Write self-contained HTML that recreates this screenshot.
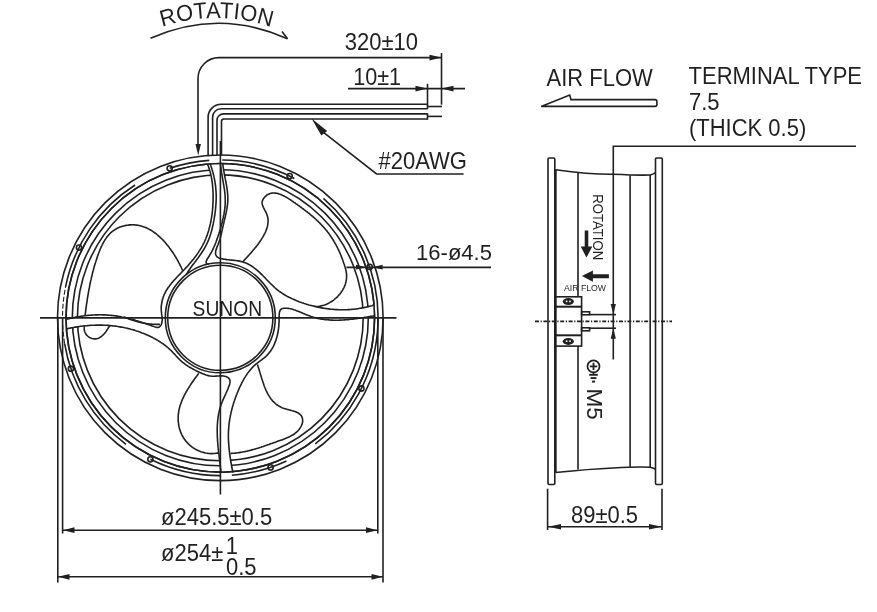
<!DOCTYPE html>
<html><head><meta charset="utf-8">
<style>
html,body{margin:0;padding:0;background:#fff;width:877px;height:612px;overflow:hidden}
svg{display:block;filter:grayscale(1)}
text{font-family:"Liberation Sans",sans-serif;fill:#231f20}
</style></head><body>
<svg width="877" height="612" viewBox="0 0 877 612">
<g fill="none" stroke="#231f20" stroke-width="1.6">
<circle cx="220.3" cy="317.8" r="162.8"/>
<circle cx="220.3" cy="317.8" r="154.3"/>
<circle cx="220.3" cy="317.8" r="148.0"/>
<circle cx="220.3" cy="317.8" r="142.9"/>
<path d="M222.23 160.01 A157.80 157.80 0 0 1 294.38 178.47"/>
<path d="M323.41 198.35 A157.80 157.80 0 0 1 315.27 443.82"/>
<path d="M286.49 461.05 A157.80 157.80 0 0 1 231.86 475.18"/>
<path d="M220.30 475.60 A157.80 157.80 0 0 1 150.38 459.27"/>
<path d="M125.99 444.32 A157.80 157.80 0 0 1 64.62 343.57"/>
<path d="M65.56 286.88 A157.80 157.80 0 0 1 135.05 185.01"/>
<path d="M169.71 168.33 A157.80 157.80 0 0 1 209.29 160.38"/>
<path d="M64.62 343.57 A157.80 157.80 0 0 1 65.56 286.88" stroke-dasharray="5 2" stroke-width="1.1"/>
<path d="M242.4 262.2 L243.2 261.4 L244.0 260.5 L244.8 259.6 L245.6 258.7 L246.4 257.9 L247.2 257.0 L248.0 256.1 L248.8 255.2 L249.6 254.3 L250.5 253.4 L251.3 252.5 L252.1 251.5 L252.9 250.6 L253.6 249.7 L254.4 248.8 L255.2 247.8 L256.0 246.9 L256.7 245.9 L257.5 244.9 L258.2 244.0 L258.9 243.0 L259.6 242.0 L260.3 241.0 L261.0 240.0 L261.7 238.9 L262.3 237.9 L262.9 236.9 L263.5 235.8 L264.1 234.7 L264.7 233.6 L265.2 232.6 L265.7 231.5 L266.1 230.3 L266.6 229.2 L266.9 228.1 L267.3 227.0 L267.5 225.8 L267.8 224.7 L267.9 223.5 L268.0 222.4 L268.1 221.2 L268.1 220.0 L268.0 218.9 L267.8 217.7 L267.5 216.5 L267.2 215.4 L266.8 214.2 L266.3 213.1 L265.7 211.9 L265.1 210.7 L264.5 209.6 L263.9 208.4 L263.3 207.3 L262.9 206.1 L262.5 205.0 L262.2 203.9 L262.1 202.8 L262.2 201.7 L262.5 200.6 L263.0 199.5 L263.6 198.4 L264.3 197.5 L265.2 196.6 L266.1 195.8 L267.0 195.0 L268.0 194.4 L269.0 194.0 L270.0 193.6 L271.0 193.3 L272.0 193.1 L273.1 193.0 L274.1 193.0 L275.2 193.1 L276.3 193.2 L277.3 193.4 L278.4 193.7 L279.5 194.1 L280.7 194.5 L281.8 194.9 L282.9 195.5 L284.0 196.0 L285.1 196.6 L286.2 197.2 L287.4 197.9 L288.5 198.6 L289.6 199.3 L290.7 200.0 L291.8 200.8 L292.9 201.5 L294.0 202.3 L295.1 203.0 L296.1 203.8 L297.2 204.5 L298.2 205.3 L299.3 206.0 L300.3 206.8 L301.3 207.5 L302.3 208.3 L303.3 209.0 L304.3 209.8 L305.3 210.5 L306.3 211.3 L307.3 212.0 L308.2 212.8 L309.2 213.5 L310.1 214.3 L311.0 215.1 L311.9 215.8 L312.8 216.6 L313.7 217.4 L314.6 218.2 L315.5 219.0 L316.4 219.8 L317.2 220.6 L318.1 221.4 L318.9 222.2 L319.7 223.0 L320.5 223.9 L321.4 224.7 L322.1 225.6 L322.9 226.4 L323.7 227.3 L324.5 228.2 L325.2 229.0 L326.0 229.9 L326.7 230.8 L327.4 231.8 L328.2 232.7 L328.9 233.6 L329.6 234.6 L330.2 235.5 L330.9 236.5 L331.6 237.5 L332.2 238.5 L332.9 239.5 L333.5 240.5 L334.1 241.6 L334.7 242.6 L335.3 243.7 L335.9 244.7 L336.5 245.8 L337.1 246.9 L337.6 248.0 L338.1 249.1 L338.7 250.2 L339.2 251.4 L339.7 252.5 L340.2 253.6 L340.7 254.8 L341.2 255.9 L341.6 257.1 L342.1 258.2 L342.5 259.4 L342.9 260.6 L343.3 261.7 L343.7 262.9 L344.1 264.1 L344.5 265.2 L344.9 266.4 L345.2 267.6 L345.5 268.8 L345.8 269.9 L346.1 271.1 L346.3 272.3 L346.4 273.5 L346.6 274.7 L346.6 275.8 L346.6 277.0 L346.5 278.2 L346.4 279.3 L346.2 280.5 L346.0 281.7 L345.7 282.8 L345.4 283.9 L345.0 285.1 L344.5 286.2 L344.1 287.3 L343.5 288.3 L343.0 289.4 L342.4 290.4 L341.7 291.5 L341.0 292.5 L340.3 293.4 L339.5 294.4 L338.7 295.3 L337.9 296.2 L337.1 297.1 L336.2 297.9 L335.2 298.7 L334.3 299.5 L333.3 300.3 L332.3 301.0 L331.3 301.7 L330.2 302.3 L329.2 302.9 L328.1 303.5 L327.0 304.0 L325.8 304.5 L324.7 304.9 L323.5 305.3 L322.4 305.6 L321.2 305.9 L320.0 306.2 L318.8 306.4 L317.6 306.5 L316.4 306.6 L315.2 306.6 L314.0 306.6"/>
<path d="M85.0 316.5 L85.1 315.3 L85.3 314.1 L85.4 312.9 L85.6 311.7 L85.7 310.5 L85.9 309.3 L86.0 308.1 L86.2 306.9 L86.4 305.7 L86.5 304.5 L86.7 303.3 L86.9 302.1 L87.1 300.9 L87.2 299.8 L87.4 298.6 L87.6 297.4 L87.8 296.2 L88.0 295.0 L88.2 293.9 L88.4 292.7 L88.6 291.5 L88.8 290.3 L89.0 289.1 L89.3 288.0 L89.5 286.8 L89.7 285.6 L89.9 284.4 L90.2 283.3 L90.4 282.1 L90.7 280.9 L91.0 279.7 L91.2 278.6 L91.5 277.4 L91.8 276.2 L92.1 275.0 L92.3 273.9 L92.6 272.7 L92.9 271.5 L93.3 270.3 L93.6 269.1 L93.9 268.0 L94.2 266.8 L94.6 265.6 L94.9 264.4 L95.3 263.2 L95.7 262.0 L96.0 260.9 L96.4 259.7 L96.8 258.5 L97.2 257.3 L97.6 256.1 L98.0 254.9 L98.5 253.7 L98.9 252.5 L99.4 251.3 L99.8 250.2 L100.3 249.0 L100.8 247.8 L101.3 246.7 L101.9 245.5 L102.4 244.4 L103.0 243.3 L103.6 242.2 L104.2 241.2 L104.8 240.1 L105.5 239.1 L106.2 238.1 L106.9 237.1 L107.6 236.2 L108.4 235.2 L109.2 234.4 L110.0 233.5 L110.9 232.7 L111.8 231.9 L112.7 231.2 L113.7 230.5 L114.7 229.8 L115.7 229.2 L116.7 228.6 L117.8 228.0 L118.9 227.5 L120.0 227.1 L121.2 226.7 L122.4 226.3 L123.5 226.0 L124.7 225.7 L125.9 225.4 L127.1 225.2 L128.3 225.1 L129.6 224.9 L130.8 224.9 L132.0 224.8 L133.2 224.8 L134.4 224.9 L135.6 225.0 L136.7 225.1 L137.9 225.3 L139.0 225.5 L140.2 225.8 L141.3 226.1 L142.4 226.4 L143.6 226.8 L144.7 227.2 L145.7 227.6 L146.8 228.1 L147.9 228.6 L148.9 229.1 L150.0 229.7 L151.0 230.3 L152.0 230.9 L153.0 231.6 L154.0 232.3 L155.0 233.0 L156.0 233.7 L156.9 234.5 L157.9 235.3 L158.8 236.1 L159.7 236.9 L160.6 237.8 L161.5 238.6 L162.4 239.5 L163.3 240.4 L164.1 241.3 L165.0 242.3 L165.8 243.2 L166.6 244.2 L167.4 245.2 L168.2 246.1 L169.0 247.1 L169.7 248.2 L170.5 249.2 L171.2 250.2 L171.9 251.2 L172.7 252.3 L173.3 253.3 L174.0 254.4 L174.7 255.4 L175.3 256.5 L176.0 257.5 L176.6 258.6 L177.2 259.6 L177.8 260.7 L178.4 261.8 L178.9 262.8 L179.5 263.8 L180.0 264.9 L180.5 265.9 L181.0 266.9 L181.5 268.0 L182.0 269.0 L182.4 270.0 L182.9 271.0"/>
<path d="M84.5 326.4 L84.2 327.8 L84.2 329.2 L84.4 330.5 L84.7 331.8 L85.3 333.0 L85.9 334.1 L86.7 335.1 L87.6 336.0 L88.6 336.8 L89.7 337.5 L90.8 338.1 L92.0 338.5 L93.2 338.8 L94.4 338.9 L95.6 338.9 L96.7 338.8 L97.8 338.5 L98.9 338.0 L99.9 337.4 L101.0 336.8 L101.9 336.0 L102.9 335.1 L103.8 334.2 L104.6 333.2 L105.5 332.2 L106.3 331.1 L107.0 330.0 L107.7 328.9 L108.4 327.8 L109.1 326.8 L109.7 325.7"/>
<path d="M198.8 373.2 L198.1 374.1 L197.5 375.0 L196.8 376.0 L196.1 376.9 L195.4 377.8 L194.7 378.8 L194.0 379.8 L193.3 380.8 L192.6 381.8 L191.9 382.8 L191.2 383.8 L190.5 384.9 L189.9 385.9 L189.2 387.0 L188.5 388.1 L187.8 389.1 L187.2 390.2 L186.6 391.3 L185.9 392.4 L185.3 393.5 L184.7 394.7 L184.1 395.8 L183.6 396.9 L183.0 398.1 L182.5 399.2 L182.0 400.4 L181.6 401.6 L181.1 402.8 L180.7 403.9 L180.3 405.1 L179.9 406.3 L179.6 407.5 L179.3 408.7 L179.0 409.9 L178.8 411.1 L178.6 412.3 L178.5 413.5 L178.3 414.7 L178.2 415.9 L178.2 417.2 L178.2 418.4 L178.2 419.6 L178.2 420.8 L178.3 422.0 L178.5 423.1 L178.6 424.3 L178.8 425.5 L179.0 426.7 L179.3 427.8 L179.6 429.0 L180.0 430.1 L180.3 431.2 L180.8 432.3 L181.2 433.4 L181.7 434.5 L182.2 435.5 L182.8 436.5 L183.4 437.6 L184.0 438.6 L184.7 439.5 L185.4 440.5 L186.1 441.4 L186.9 442.3 L187.7 443.2 L188.6 444.0 L189.4 444.8 L190.3 445.6 L191.3 446.4 L192.2 447.1 L193.2 447.8 L194.3 448.5 L195.3 449.1 L196.4 449.7 L197.5 450.3 L198.6 450.8 L199.7 451.2 L200.9 451.7 L202.1 452.1 L203.3 452.4 L204.5 452.7 L205.7 453.0 L207.0 453.2 L208.2 453.4 L209.5 453.5 L210.8 453.6 L212.1 453.6 L213.4 453.5 L214.7 453.5 L216.1 453.3 L217.4 453.1 L218.7 452.9"/>
<path d="M257.4 364.5 L257.8 365.6 L258.1 366.7 L258.5 367.8 L258.9 368.9 L259.2 370.1 L259.6 371.3 L259.9 372.4 L260.3 373.6 L260.6 374.8 L261.0 376.0 L261.4 377.2 L261.7 378.4 L262.1 379.5 L262.5 380.7 L262.9 381.9 L263.3 383.1 L263.7 384.3 L264.1 385.5 L264.5 386.6 L265.0 387.8 L265.5 388.9 L265.9 390.0 L266.4 391.1 L267.0 392.2 L267.5 393.3 L268.1 394.4 L268.7 395.4 L269.3 396.4 L270.0 397.4 L270.6 398.4 L271.3 399.3 L272.1 400.2 L272.8 401.1 L273.6 401.9 L274.5 402.7 L275.3 403.5 L276.2 404.3 L277.2 405.0 L278.2 405.6 L279.2 406.2 L280.3 406.8 L281.4 407.4 L282.5 407.9 L283.7 408.3 L285.0 408.7 L286.2 409.1 L287.5 409.4 L288.8 409.8 L290.1 410.1 L291.3 410.5 L292.6 410.8 L293.8 411.2 L295.0 411.6 L296.1 412.0 L297.2 412.5 L298.2 413.0 L299.1 413.6 L299.9 414.3 L300.7 415.0 L301.3 415.8 L301.8 416.7 L302.2 417.7 L302.5 418.7 L302.6 419.8 L302.7 421.0 L302.6 422.1 L302.3 423.3 L302.0 424.4 L301.5 425.5 L300.9 426.7 L300.3 427.7 L299.6 428.8 L298.8 429.8 L298.0 430.7 L297.1 431.6 L296.2 432.5 L295.2 433.2 L294.2 434.0 L293.2 434.7 L292.1 435.3 L291.0 435.9 L289.9 436.5 L288.8 437.1 L287.7 437.6 L286.5 438.1 L285.3 438.6 L284.2 439.0 L283.0 439.5 L281.8 439.9 L280.6 440.3 L279.4 440.7 L278.2 441.1 L277.0 441.6 L275.9 442.0 L274.7 442.4 L273.5 442.8 L272.4 443.2 L271.2 443.6 L270.1 444.0 L269.0 444.4 L267.8 444.8 L266.7 445.2 L265.5 445.6 L264.4 446.0 L263.3 446.4 L262.1 446.8 L261.0 447.2 L259.9 447.5 L258.7 447.9 L257.6 448.3 L256.5 448.6 L255.3 448.9 L254.2 449.3 L253.1 449.6 L251.9 449.9 L250.8 450.2 L249.6 450.5 L248.5 450.8 L247.3 451.1 L246.2 451.3 L245.0 451.6 L243.8 451.8 L242.6 452.0 L241.5 452.2 L240.3 452.4 L239.1 452.6 L237.8 452.8 L236.6 453.0 L235.4 453.1 L234.2 453.2 L232.9 453.3 L231.7 453.4 L230.4 453.5"/>
</g>
<path d="M222.8 163.9 L222.9 165.1 L223.1 166.3 L223.2 167.5 L223.4 168.7 L223.6 169.9 L223.8 171.0 L224.0 172.2 L224.2 173.4 L224.4 174.6 L224.7 175.8 L224.9 177.0 L225.1 178.2 L225.4 179.4 L225.6 180.6 L225.8 181.8 L226.1 183.0 L226.3 184.2 L226.5 185.4 L226.7 186.6 L226.9 187.8 L227.1 189.0 L227.2 190.2 L227.4 191.4 L227.5 192.6 L227.6 193.8 L227.7 195.0 L227.8 196.2 L227.8 197.4 L227.8 198.6 L227.8 199.8 L227.8 201.0 L227.7 202.2 L227.6 203.4 L227.5 204.6 L227.3 205.8 L227.2 207.0 L227.0 208.2 L226.8 209.4 L226.5 210.6 L226.3 211.8 L226.1 213.0 L225.8 214.2 L225.5 215.4 L225.3 216.6 L225.0 217.8 L224.7 219.0 L224.4 220.1 L224.1 221.3 L223.9 222.5 L223.6 223.7 L223.3 224.8 L223.1 226.0 L222.8 227.1 L222.6 228.3 L222.3 229.4 L222.1 230.6 L221.8 231.7 L221.5 232.9 L221.3 234.0 L221.0 235.2 L220.7 236.3 L220.4 237.5 L220.1 238.7 L219.7 239.9 L219.3 241.0 L218.9 242.2 L218.5 243.4 L218.0 244.7 L217.5 245.9 L217.0 247.1 L216.6 248.4 L216.1 249.6 L215.8 250.8 L215.6 251.9 L215.5 253.1 L215.6 254.1 L215.9 255.1 L216.4 256.0 L217.1 256.8 L217.9 257.4 L218.8 257.9 L219.9 258.3 L221.0 258.6 L222.2 258.8 L223.4 259.1 L224.6 259.3 L225.8 259.4 L227.0 259.6 L228.3 259.7 L229.5 259.9 L230.8 260.0 L232.0 260.1 L233.3 260.2 L234.6 260.4 L235.8 260.5 L237.1 260.7 L238.3 260.9 L239.5 261.1 L240.7 261.4 L241.9 261.7 L243.1 262.0 L244.2 262.4 L245.3 262.8 L246.4 263.2 L247.5 263.7 L248.5 264.3 L249.5 264.8 L250.6 265.4 L251.5 266.0 L252.5 266.7 L253.5 267.4 L254.4 268.1 L255.4 268.8 L256.3 269.5 L257.2 270.3 L258.1 271.1 L259.0 271.9 L259.9 272.7 L260.8 273.6 L261.6 274.4 L262.5 275.3 L263.4 276.2 L264.2 277.0 L265.1 277.9 L265.9 278.8 L266.8 279.7 L267.6 280.6 L268.5 281.5 L269.4 282.3 L270.2 283.2 L271.1 284.1 L272.0 284.9 L272.9 285.8 L273.7 286.6 L274.6 287.5 L275.6 288.3 L276.5 289.1 L277.4 289.8 L278.4 290.6 L279.3 291.3 L280.3 292.0 L281.3 292.7 L282.3 293.4 L283.3 294.0 L284.3 294.7 L285.4 295.3 L286.4 295.9 L287.4 296.5 L288.5 297.0 L289.6 297.6 L290.7 298.1 L291.8 298.6 L292.8 299.1 L294.0 299.6 L295.1 300.1 L296.2 300.6 L297.3 301.0 L298.4 301.4 L299.6 301.9 L300.7 302.3 L301.8 302.7 L303.0 303.1 L304.1 303.5 L305.3 303.8 L306.4 304.2 L307.6 304.5 L308.8 304.9 L309.9 305.2 L311.1 305.5 L312.3 305.8 L313.4 306.1 L314.6 306.4 L315.8 306.7 L317.0 307.0 L318.1 307.2 L319.3 307.4 L320.5 307.7 L321.7 307.9 L322.9 308.1 L324.1 308.3 L325.3 308.5 L326.5 308.6 L327.7 308.8 L328.8 308.9 L330.0 309.1 L331.2 309.2 L332.4 309.3 L333.6 309.4 L334.8 309.5 L336.0 309.6 L337.3 309.6 L338.5 309.7 L339.7 309.7 L340.9 309.7 L342.1 309.8 L343.3 309.8 L344.5 309.7 L345.7 309.7 L346.9 309.7 L348.1 309.6 L349.3 309.6 L350.5 309.5 L351.7 309.4 L352.9 309.3 L354.1 309.2 L355.3 309.0 L356.5 308.9 L357.7 308.7 L358.9 308.5 L360.1 308.3 L361.3 308.1 L362.5 307.9 L363.7 307.7 L364.9 307.4 L366.0 307.2 L367.2 306.9 L368.4 306.6 L369.6 306.3 L370.8 306.0 L372.0 305.7 L373.1 305.3 L374.3 305.0 A154.3 154.3 0 0 1 374.6 315.7 L374.3 315.8 L373.1 316.0 L371.9 316.2 L370.8 316.4 L369.6 316.6 L368.4 316.8 L367.2 317.0 L366.0 317.2 L364.8 317.4 L363.6 317.6 L362.5 317.7 L361.3 317.9 L360.1 318.1 L358.9 318.3 L357.7 318.4 L356.5 318.6 L355.3 318.8 L354.1 318.9 L352.9 319.1 L351.7 319.2 L350.5 319.3 L349.3 319.5 L348.1 319.6 L346.9 319.7 L345.7 319.8 L344.5 319.9 L343.3 320.0 L342.1 320.0 L340.9 320.1 L339.7 320.1 L338.5 320.2 L337.2 320.2 L336.0 320.2 L334.8 320.2 L333.6 320.2 L332.4 320.1 L331.2 320.1 L330.0 320.0 L328.9 319.9 L327.7 319.8 L326.5 319.7 L325.3 319.6 L324.1 319.4 L322.9 319.3 L321.7 319.1 L320.5 318.9 L319.3 318.6 L318.1 318.4 L316.9 318.1 L315.8 317.8 L314.6 317.5 L313.4 317.2 L312.2 316.8 L311.1 316.5 L309.9 316.1 L308.7 315.6 L307.6 315.2 L306.4 314.7 L305.2 314.3 L304.1 313.8 L302.9 313.3 L301.8 312.8 L300.6 312.3 L299.5 311.8 L298.3 311.3 L297.2 310.9 L296.0 310.4 L294.9 310.0 L293.8 309.7 L292.7 309.3 L291.5 309.0 L290.4 308.7 L289.3 308.5 L288.2 308.4 L287.1 308.3 L285.9 308.2 L284.8 308.2 L283.7 308.3 L282.7 308.5 L281.7 308.8 L280.9 309.4 L280.3 310.1 L279.8 311.1 L279.5 312.2 L279.3 313.5 L279.2 314.8 L279.2 316.2 L279.2 317.6 L279.1 319.0 L279.1 320.3 L279.1 321.6 L279.0 322.8 L278.9 324.1 L278.9 325.3 L278.8 326.5 L278.6 327.6 L278.5 328.8 L278.3 330.0 L278.2 331.1 L278.0 332.3 L277.7 333.4 L277.5 334.6 L277.2 335.8 L276.9 336.9 L276.6 338.1 L276.2 339.3 L275.9 340.4 L275.4 341.5 L275.0 342.7 L274.5 343.8 L274.1 344.9 L273.5 346.0 L273.0 347.1 L272.4 348.1 L271.8 349.2 L271.1 350.2 L270.5 351.2 L269.7 352.1 L269.0 353.1 L268.2 354.0 L267.4 354.9 L266.6 355.8 L265.7 356.6 L264.8 357.4 L263.8 358.2 L262.8 358.9 L261.9 359.7 L260.9 360.4 L259.9 361.1 L258.9 361.8 L257.9 362.6 L256.9 363.3 L256.0 364.1 L255.1 364.9 L254.2 365.7 L253.3 366.5 L252.5 367.4 L251.7 368.3 L250.9 369.2 L250.1 370.1 L249.4 371.0 L248.6 371.9 L247.9 372.9 L247.2 373.9 L246.6 374.9 L245.9 375.9 L245.3 376.9 L244.6 377.9 L244.0 378.9 L243.4 380.0 L242.9 381.0 L242.3 382.1 L241.7 383.2 L241.2 384.3 L240.7 385.4 L240.1 386.4 L239.6 387.5 L239.1 388.6 L238.6 389.8 L238.2 390.9 L237.7 392.0 L237.2 393.1 L236.8 394.2 L236.3 395.4 L235.9 396.5 L235.5 397.6 L235.1 398.8 L234.7 399.9 L234.3 401.1 L233.9 402.2 L233.5 403.4 L233.2 404.5 L232.8 405.7 L232.5 406.9 L232.2 408.0 L231.9 409.2 L231.6 410.4 L231.3 411.5 L231.0 412.7 L230.8 413.9 L230.5 415.1 L230.3 416.3 L230.1 417.5 L229.8 418.6 L229.7 419.8 L229.5 421.0 L229.3 422.2 L229.1 423.4 L229.0 424.6 L228.9 425.8 L228.8 427.0 L228.7 428.2 L228.6 429.4 L228.5 430.6 L228.5 431.8 L228.4 433.0 L228.4 434.2 L228.4 435.4 L228.4 436.6 L228.4 437.8 L228.4 439.0 L228.5 440.2 L228.5 441.4 L228.6 442.6 L228.7 443.8 L228.8 445.0 L228.8 446.2 L229.0 447.4 L229.1 448.6 L229.2 449.8 L229.3 451.0 L229.5 452.2 L229.6 453.4 L229.8 454.6 L230.0 455.8 L230.1 457.0 L230.3 458.2 L230.5 459.4 L230.7 460.6 L230.9 461.8 L231.1 463.0 L231.3 464.2 L231.5 465.4 L231.7 466.6 L231.9 467.8 L232.2 468.9 L232.4 470.1 L232.6 471.3 L232.8 472.5 A154.3 154.3 0 0 1 221.1 472.1 L221.1 472.5 L220.9 471.3 L220.8 470.2 L220.7 469.0 L220.5 467.8 L220.4 466.7 L220.3 465.5 L220.1 464.3 L220.0 463.1 L219.8 461.9 L219.7 460.8 L219.5 459.6 L219.4 458.4 L219.2 457.2 L219.1 455.9 L219.0 454.7 L218.8 453.5 L218.7 452.3 L218.5 451.1 L218.4 449.9 L218.3 448.7 L218.1 447.4 L218.0 446.2 L217.9 445.0 L217.8 443.8 L217.7 442.5 L217.6 441.3 L217.5 440.1 L217.5 438.9 L217.4 437.6 L217.3 436.4 L217.3 435.2 L217.3 434.0 L217.2 432.7 L217.2 431.5 L217.2 430.3 L217.2 429.1 L217.2 427.9 L217.3 426.7 L217.3 425.4 L217.4 424.2 L217.5 423.0 L217.6 421.8 L217.7 420.6 L217.8 419.4 L218.0 418.3 L218.1 417.1 L218.3 415.9 L218.5 414.7 L218.7 413.5 L219.0 412.4 L219.2 411.2 L219.5 410.1 L219.8 408.9 L220.1 407.8 L220.5 406.6 L220.8 405.5 L221.2 404.4 L221.6 403.3 L222.1 402.1 L222.5 401.0 L223.0 399.9 L223.5 398.8 L224.0 397.7 L224.5 396.6 L225.0 395.5 L225.5 394.4 L226.0 393.3 L226.5 392.1 L227.0 391.0 L227.5 389.9 L228.0 388.7 L228.4 387.5 L228.9 386.4 L229.3 385.2 L229.7 384.0 L229.9 382.9 L230.0 381.8 L230.0 380.7 L229.8 379.8 L229.3 378.9 L228.6 378.1 L227.8 377.4 L226.9 376.9 L225.8 376.5 L224.7 376.2 L223.5 376.0 L222.3 375.9 L221.0 375.9 L219.7 375.9 L218.4 376.0 L217.1 376.0 L215.8 376.1 L214.4 376.2 L213.1 376.2 L211.8 376.2 L210.6 376.0 L209.4 375.9 L208.2 375.6 L207.1 375.3 L205.9 375.0 L204.8 374.6 L203.7 374.1 L202.6 373.7 L201.6 373.2 L200.5 372.7 L199.4 372.2 L198.3 371.7 L197.2 371.2 L196.1 370.7 L195.0 370.1 L193.9 369.6 L192.9 369.0 L191.8 368.4 L190.7 367.8 L189.7 367.2 L188.6 366.6 L187.6 365.9 L186.6 365.3 L185.6 364.6 L184.6 363.9 L183.7 363.1 L182.7 362.4 L181.8 361.6 L180.9 360.8 L180.0 360.0 L179.2 359.1 L178.3 358.3 L177.5 357.4 L176.7 356.5 L175.9 355.7 L175.1 354.8 L174.3 353.9 L173.4 353.0 L172.6 352.1 L171.8 351.3 L170.9 350.4 L170.0 349.6 L169.2 348.8 L168.3 348.0 L167.3 347.2 L166.4 346.4 L165.5 345.7 L164.5 345.0 L163.5 344.2 L162.5 343.5 L161.5 342.9 L160.5 342.2 L159.5 341.5 L158.5 340.9 L157.4 340.2 L156.4 339.6 L155.3 339.0 L154.3 338.4 L153.2 337.9 L152.1 337.3 L151.0 336.8 L149.9 336.2 L148.8 335.7 L147.7 335.2 L146.6 334.7 L145.5 334.2 L144.4 333.8 L143.3 333.3 L142.1 332.9 L141.0 332.4 L139.9 332.0 L138.7 331.6 L137.6 331.2 L136.5 330.9 L135.3 330.5 L134.2 330.1 L133.0 329.8 L131.9 329.5 L130.7 329.2 L129.5 328.8 L128.4 328.6 L127.2 328.3 L126.0 328.0 L124.8 327.8 L123.7 327.5 L122.5 327.3 L121.3 327.1 L120.1 326.9 L118.9 326.7 L117.7 326.5 L116.6 326.3 L115.4 326.1 L114.2 326.0 L113.0 325.9 L111.8 325.7 L110.6 325.6 L109.4 325.5 L108.2 325.4 L107.0 325.3 L105.8 325.3 L104.6 325.2 L103.4 325.2 L102.2 325.1 L101.0 325.1 L99.7 325.1 L98.5 325.1 L97.3 325.1 L96.1 325.1 L94.9 325.2 L93.7 325.2 L92.5 325.2 L91.3 325.3 L90.1 325.4 L88.9 325.5 L87.7 325.6 L86.5 325.7 L85.3 325.8 L84.1 325.9 L82.9 326.0 L81.7 326.2 L80.5 326.3 L79.3 326.5 L78.1 326.7 L76.9 326.9 L75.7 327.1 L74.5 327.3 L73.3 327.5 L72.1 327.7 L70.9 327.9 L69.7 328.2 L68.6 328.4 L67.4 328.7 L66.2 329.0 A154.3 154.3 0 0 1 66.0 319.6 L65.5 319.6 L66.7 319.3 L67.8 319.0 L69.0 318.7 L70.2 318.4 L71.3 318.1 L72.5 317.9 L73.7 317.6 L74.9 317.4 L76.1 317.1 L77.3 316.9 L78.5 316.7 L79.7 316.5 L80.9 316.3 L82.1 316.1 L83.3 316.0 L84.5 315.8 L85.7 315.7 L86.9 315.5 L88.1 315.4 L89.3 315.3 L90.5 315.2 L91.7 315.1 L92.9 315.0 L94.1 315.0 L95.4 314.9 L96.6 314.9 L97.8 314.9 L99.0 314.8 L100.2 314.8 L101.4 314.8 L102.6 314.9 L103.8 314.9 L105.1 314.9 L106.3 315.0 L107.5 315.1 L108.7 315.2 L109.9 315.3 L111.1 315.4 L112.3 315.5 L113.5 315.6 L114.7 315.8 L115.9 315.9 L117.1 316.1 L118.3 316.3 L119.5 316.5 L120.6 316.7 L121.8 317.0 L123.0 317.2 L124.2 317.4 L125.4 317.7 L126.5 318.0 L127.7 318.3 L128.9 318.5 L130.1 318.8 L131.2 319.2 L132.4 319.5 L133.6 319.8 L134.7 320.1 L135.9 320.5 L137.0 320.8 L138.2 321.2 L139.4 321.6 L140.5 321.9 L141.7 322.3 L142.8 322.7 L144.0 323.1 L145.2 323.5 L146.3 323.9 L147.5 324.3 L148.6 324.7 L149.8 325.1 L150.9 325.5 L152.1 325.9 L153.3 326.3 L154.4 326.7 L155.6 327.1 L156.7 327.4 L157.8 327.5 L158.8 327.3 L159.7 326.7 L160.5 325.8 L161.1 324.8 L161.6 323.7 L161.9 322.6 L162.1 321.5 L162.2 320.2 L162.2 319.0 L162.1 317.8 L162.0 316.5 L161.8 315.2 L161.6 313.9 L161.5 312.6 L161.3 311.3 L161.3 310.0 L161.2 308.8 L161.2 307.5 L161.3 306.3 L161.4 305.0 L161.6 303.8 L161.8 302.6 L162.0 301.4 L162.3 300.2 L162.6 299.0 L163.0 297.9 L163.3 296.8 L163.8 295.6 L164.2 294.5 L164.7 293.5 L165.3 292.4 L165.8 291.3 L166.4 290.3 L167.1 289.3 L167.7 288.3 L168.4 287.3 L169.1 286.4 L169.8 285.4 L170.5 284.5 L171.3 283.5 L172.0 282.6 L172.8 281.7 L173.6 280.8 L174.4 279.9 L175.3 279.0 L176.1 278.1 L176.9 277.2 L177.8 276.3 L178.6 275.4 L179.5 274.6 L180.3 273.7 L181.2 272.8 L182.0 271.9 L182.9 271.0 L183.7 270.2 L184.6 269.3 L185.4 268.4 L186.2 267.5 L187.1 266.6 L187.9 265.7 L188.7 264.8 L189.5 263.8 L190.3 262.9 L191.1 262.0 L191.9 261.1 L192.6 260.1 L193.4 259.2 L194.1 258.3 L194.9 257.3 L195.6 256.3 L196.3 255.4 L197.0 254.4 L197.7 253.4 L198.4 252.4 L199.0 251.4 L199.7 250.4 L200.3 249.4 L200.9 248.4 L201.5 247.4 L202.1 246.3 L202.7 245.3 L203.2 244.2 L203.8 243.1 L204.3 242.1 L204.8 241.0 L205.3 239.9 L205.8 238.8 L206.2 237.6 L206.6 236.5 L207.1 235.4 L207.5 234.2 L207.8 233.1 L208.2 231.9 L208.6 230.8 L208.9 229.6 L209.2 228.4 L209.5 227.3 L209.8 226.1 L210.1 224.9 L210.4 223.7 L210.6 222.5 L210.9 221.3 L211.1 220.1 L211.3 218.9 L211.5 217.7 L211.7 216.5 L211.9 215.3 L212.1 214.1 L212.2 212.8 L212.3 211.6 L212.5 210.4 L212.6 209.2 L212.7 208.0 L212.8 206.7 L212.8 205.5 L212.9 204.3 L213.0 203.1 L213.0 201.9 L213.1 200.6 L213.1 199.4 L213.1 198.2 L213.1 197.0 L213.1 195.8 L213.1 194.6 L213.1 193.4 L213.0 192.2 L213.0 191.0 L212.9 189.8 L212.8 188.6 L212.7 187.4 L212.6 186.3 L212.5 185.1 L212.4 183.9 L212.3 182.7 L212.1 181.5 L211.9 180.3 L211.7 179.2 L211.5 178.0 L211.3 176.8 L211.0 175.6 L210.8 174.5 L210.5 173.3 L210.2 172.1 L209.9 170.9 L209.5 169.8 L209.1 168.6 L208.8 167.4 L208.4 166.2 L207.9 165.1 L207.5 163.9 A154.3 154.3 0 0 1 222.8 163.5Z" fill="#fff" stroke="none"/>
<g fill="none" stroke="#231f20" stroke-width="1.6">
<path d="M222.8 163.9 L222.9 165.1 L223.1 166.3 L223.2 167.5 L223.4 168.7 L223.6 169.9 L223.8 171.0 L224.0 172.2 L224.2 173.4 L224.4 174.6 L224.7 175.8 L224.9 177.0 L225.1 178.2 L225.4 179.4 L225.6 180.6 L225.8 181.8 L226.1 183.0 L226.3 184.2 L226.5 185.4 L226.7 186.6 L226.9 187.8 L227.1 189.0 L227.2 190.2 L227.4 191.4 L227.5 192.6 L227.6 193.8 L227.7 195.0 L227.8 196.2 L227.8 197.4 L227.8 198.6 L227.8 199.8 L227.8 201.0 L227.7 202.2 L227.6 203.4 L227.5 204.6 L227.3 205.8 L227.2 207.0 L227.0 208.2 L226.8 209.4 L226.5 210.6 L226.3 211.8 L226.1 213.0 L225.8 214.2 L225.5 215.4 L225.3 216.6 L225.0 217.8 L224.7 219.0 L224.4 220.1 L224.1 221.3 L223.9 222.5 L223.6 223.7 L223.3 224.8 L223.1 226.0 L222.8 227.1 L222.6 228.3 L222.3 229.4 L222.1 230.6 L221.8 231.7 L221.5 232.9 L221.3 234.0 L221.0 235.2 L220.7 236.3 L220.4 237.5 L220.1 238.7 L219.7 239.9 L219.3 241.0 L218.9 242.2 L218.5 243.4 L218.0 244.7 L217.5 245.9 L217.0 247.1 L216.6 248.4 L216.1 249.6 L215.8 250.8 L215.6 251.9 L215.5 253.1 L215.6 254.1 L215.9 255.1 L216.4 256.0 L217.1 256.8 L217.9 257.4 L218.8 257.9 L219.9 258.3 L221.0 258.6 L222.2 258.8 L223.4 259.1 L224.6 259.3 L225.8 259.4 L227.0 259.6 L228.3 259.7 L229.5 259.9 L230.8 260.0 L232.0 260.1 L233.3 260.2 L234.6 260.4 L235.8 260.5 L237.1 260.7 L238.3 260.9 L239.5 261.1 L240.7 261.4 L241.9 261.7 L243.1 262.0 L244.2 262.4 L245.3 262.8 L246.4 263.2 L247.5 263.7 L248.5 264.3 L249.5 264.8 L250.6 265.4 L251.5 266.0 L252.5 266.7 L253.5 267.4 L254.4 268.1 L255.4 268.8 L256.3 269.5 L257.2 270.3 L258.1 271.1 L259.0 271.9 L259.9 272.7 L260.8 273.6 L261.6 274.4 L262.5 275.3 L263.4 276.2 L264.2 277.0 L265.1 277.9 L265.9 278.8 L266.8 279.7 L267.6 280.6 L268.5 281.5 L269.4 282.3 L270.2 283.2 L271.1 284.1 L272.0 284.9 L272.9 285.8 L273.7 286.6 L274.6 287.5 L275.6 288.3 L276.5 289.1 L277.4 289.8 L278.4 290.6 L279.3 291.3 L280.3 292.0 L281.3 292.7 L282.3 293.4 L283.3 294.0 L284.3 294.7 L285.4 295.3 L286.4 295.9 L287.4 296.5 L288.5 297.0 L289.6 297.6 L290.7 298.1 L291.8 298.6 L292.8 299.1 L294.0 299.6 L295.1 300.1 L296.2 300.6 L297.3 301.0 L298.4 301.4 L299.6 301.9 L300.7 302.3 L301.8 302.7 L303.0 303.1 L304.1 303.5 L305.3 303.8 L306.4 304.2 L307.6 304.5 L308.8 304.9 L309.9 305.2 L311.1 305.5 L312.3 305.8 L313.4 306.1 L314.6 306.4 L315.8 306.7 L317.0 307.0 L318.1 307.2 L319.3 307.4 L320.5 307.7 L321.7 307.9 L322.9 308.1 L324.1 308.3 L325.3 308.5 L326.5 308.6 L327.7 308.8 L328.8 308.9 L330.0 309.1 L331.2 309.2 L332.4 309.3 L333.6 309.4 L334.8 309.5 L336.0 309.6 L337.3 309.6 L338.5 309.7 L339.7 309.7 L340.9 309.7 L342.1 309.8 L343.3 309.8 L344.5 309.7 L345.7 309.7 L346.9 309.7 L348.1 309.6 L349.3 309.6 L350.5 309.5 L351.7 309.4 L352.9 309.3 L354.1 309.2 L355.3 309.0 L356.5 308.9 L357.7 308.7 L358.9 308.5 L360.1 308.3 L361.3 308.1 L362.5 307.9 L363.7 307.7 L364.9 307.4 L366.0 307.2 L367.2 306.9 L368.4 306.6 L369.6 306.3 L370.8 306.0 L372.0 305.7 L373.1 305.3 L374.3 305.0"/>
<path d="M374.3 315.8 L373.1 316.0 L371.9 316.2 L370.8 316.4 L369.6 316.6 L368.4 316.8 L367.2 317.0 L366.0 317.2 L364.8 317.4 L363.6 317.6 L362.5 317.7 L361.3 317.9 L360.1 318.1 L358.9 318.3 L357.7 318.4 L356.5 318.6 L355.3 318.8 L354.1 318.9 L352.9 319.1 L351.7 319.2 L350.5 319.3 L349.3 319.5 L348.1 319.6 L346.9 319.7 L345.7 319.8 L344.5 319.9 L343.3 320.0 L342.1 320.0 L340.9 320.1 L339.7 320.1 L338.5 320.2 L337.2 320.2 L336.0 320.2 L334.8 320.2 L333.6 320.2 L332.4 320.1 L331.2 320.1 L330.0 320.0 L328.9 319.9 L327.7 319.8 L326.5 319.7 L325.3 319.6 L324.1 319.4 L322.9 319.3 L321.7 319.1 L320.5 318.9 L319.3 318.6 L318.1 318.4 L316.9 318.1 L315.8 317.8 L314.6 317.5 L313.4 317.2 L312.2 316.8 L311.1 316.5 L309.9 316.1 L308.7 315.6 L307.6 315.2 L306.4 314.7 L305.2 314.3 L304.1 313.8 L302.9 313.3 L301.8 312.8 L300.6 312.3 L299.5 311.8 L298.3 311.3 L297.2 310.9 L296.0 310.4 L294.9 310.0 L293.8 309.7 L292.7 309.3 L291.5 309.0 L290.4 308.7 L289.3 308.5 L288.2 308.4 L287.1 308.3 L285.9 308.2 L284.8 308.2 L283.7 308.3 L282.7 308.5 L281.7 308.8 L280.9 309.4 L280.3 310.1 L279.8 311.1 L279.5 312.2 L279.3 313.5 L279.2 314.8 L279.2 316.2 L279.2 317.6 L279.1 319.0 L279.1 320.3 L279.1 321.6 L279.0 322.8 L278.9 324.1 L278.9 325.3 L278.8 326.5 L278.6 327.6 L278.5 328.8 L278.3 330.0 L278.2 331.1 L278.0 332.3 L277.7 333.4 L277.5 334.6 L277.2 335.8 L276.9 336.9 L276.6 338.1 L276.2 339.3 L275.9 340.4 L275.4 341.5 L275.0 342.7 L274.5 343.8 L274.1 344.9 L273.5 346.0 L273.0 347.1 L272.4 348.1 L271.8 349.2 L271.1 350.2 L270.5 351.2 L269.7 352.1 L269.0 353.1 L268.2 354.0 L267.4 354.9 L266.6 355.8 L265.7 356.6 L264.8 357.4 L263.8 358.2 L262.8 358.9 L261.9 359.7 L260.9 360.4 L259.9 361.1 L258.9 361.8 L257.9 362.6 L256.9 363.3 L256.0 364.1 L255.1 364.9 L254.2 365.7 L253.3 366.5 L252.5 367.4 L251.7 368.3 L250.9 369.2 L250.1 370.1 L249.4 371.0 L248.6 371.9 L247.9 372.9 L247.2 373.9 L246.6 374.9 L245.9 375.9 L245.3 376.9 L244.6 377.9 L244.0 378.9 L243.4 380.0 L242.9 381.0 L242.3 382.1 L241.7 383.2 L241.2 384.3 L240.7 385.4 L240.1 386.4 L239.6 387.5 L239.1 388.6 L238.6 389.8 L238.2 390.9 L237.7 392.0 L237.2 393.1 L236.8 394.2 L236.3 395.4 L235.9 396.5 L235.5 397.6 L235.1 398.8 L234.7 399.9 L234.3 401.1 L233.9 402.2 L233.5 403.4 L233.2 404.5 L232.8 405.7 L232.5 406.9 L232.2 408.0 L231.9 409.2 L231.6 410.4 L231.3 411.5 L231.0 412.7 L230.8 413.9 L230.5 415.1 L230.3 416.3 L230.1 417.5 L229.8 418.6 L229.7 419.8 L229.5 421.0 L229.3 422.2 L229.1 423.4 L229.0 424.6 L228.9 425.8 L228.8 427.0 L228.7 428.2 L228.6 429.4 L228.5 430.6 L228.5 431.8 L228.4 433.0 L228.4 434.2 L228.4 435.4 L228.4 436.6 L228.4 437.8 L228.4 439.0 L228.5 440.2 L228.5 441.4 L228.6 442.6 L228.7 443.8 L228.8 445.0 L228.8 446.2 L229.0 447.4 L229.1 448.6 L229.2 449.8 L229.3 451.0 L229.5 452.2 L229.6 453.4 L229.8 454.6 L230.0 455.8 L230.1 457.0 L230.3 458.2 L230.5 459.4 L230.7 460.6 L230.9 461.8 L231.1 463.0 L231.3 464.2 L231.5 465.4 L231.7 466.6 L231.9 467.8 L232.2 468.9 L232.4 470.1 L232.6 471.3 L232.8 472.5"/>
<path d="M221.1 472.5 L220.9 471.3 L220.8 470.2 L220.7 469.0 L220.5 467.8 L220.4 466.7 L220.3 465.5 L220.1 464.3 L220.0 463.1 L219.8 461.9 L219.7 460.8 L219.5 459.6 L219.4 458.4 L219.2 457.2 L219.1 455.9 L219.0 454.7 L218.8 453.5 L218.7 452.3 L218.5 451.1 L218.4 449.9 L218.3 448.7 L218.1 447.4 L218.0 446.2 L217.9 445.0 L217.8 443.8 L217.7 442.5 L217.6 441.3 L217.5 440.1 L217.5 438.9 L217.4 437.6 L217.3 436.4 L217.3 435.2 L217.3 434.0 L217.2 432.7 L217.2 431.5 L217.2 430.3 L217.2 429.1 L217.2 427.9 L217.3 426.7 L217.3 425.4 L217.4 424.2 L217.5 423.0 L217.6 421.8 L217.7 420.6 L217.8 419.4 L218.0 418.3 L218.1 417.1 L218.3 415.9 L218.5 414.7 L218.7 413.5 L219.0 412.4 L219.2 411.2 L219.5 410.1 L219.8 408.9 L220.1 407.8 L220.5 406.6 L220.8 405.5 L221.2 404.4 L221.6 403.3 L222.1 402.1 L222.5 401.0 L223.0 399.9 L223.5 398.8 L224.0 397.7 L224.5 396.6 L225.0 395.5 L225.5 394.4 L226.0 393.3 L226.5 392.1 L227.0 391.0 L227.5 389.9 L228.0 388.7 L228.4 387.5 L228.9 386.4 L229.3 385.2 L229.7 384.0 L229.9 382.9 L230.0 381.8 L230.0 380.7 L229.8 379.8 L229.3 378.9 L228.6 378.1 L227.8 377.4 L226.9 376.9 L225.8 376.5 L224.7 376.2 L223.5 376.0 L222.3 375.9 L221.0 375.9 L219.7 375.9 L218.4 376.0 L217.1 376.0 L215.8 376.1 L214.4 376.2 L213.1 376.2 L211.8 376.2 L210.6 376.0 L209.4 375.9 L208.2 375.6 L207.1 375.3 L205.9 375.0 L204.8 374.6 L203.7 374.1 L202.6 373.7 L201.6 373.2 L200.5 372.7 L199.4 372.2 L198.3 371.7 L197.2 371.2 L196.1 370.7 L195.0 370.1 L193.9 369.6 L192.9 369.0 L191.8 368.4 L190.7 367.8 L189.7 367.2 L188.6 366.6 L187.6 365.9 L186.6 365.3 L185.6 364.6 L184.6 363.9 L183.7 363.1 L182.7 362.4 L181.8 361.6 L180.9 360.8 L180.0 360.0 L179.2 359.1 L178.3 358.3 L177.5 357.4 L176.7 356.5 L175.9 355.7 L175.1 354.8 L174.3 353.9 L173.4 353.0 L172.6 352.1 L171.8 351.3 L170.9 350.4 L170.0 349.6 L169.2 348.8 L168.3 348.0 L167.3 347.2 L166.4 346.4 L165.5 345.7 L164.5 345.0 L163.5 344.2 L162.5 343.5 L161.5 342.9 L160.5 342.2 L159.5 341.5 L158.5 340.9 L157.4 340.2 L156.4 339.6 L155.3 339.0 L154.3 338.4 L153.2 337.9 L152.1 337.3 L151.0 336.8 L149.9 336.2 L148.8 335.7 L147.7 335.2 L146.6 334.7 L145.5 334.2 L144.4 333.8 L143.3 333.3 L142.1 332.9 L141.0 332.4 L139.9 332.0 L138.7 331.6 L137.6 331.2 L136.5 330.9 L135.3 330.5 L134.2 330.1 L133.0 329.8 L131.9 329.5 L130.7 329.2 L129.5 328.8 L128.4 328.6 L127.2 328.3 L126.0 328.0 L124.8 327.8 L123.7 327.5 L122.5 327.3 L121.3 327.1 L120.1 326.9 L118.9 326.7 L117.7 326.5 L116.6 326.3 L115.4 326.1 L114.2 326.0 L113.0 325.9 L111.8 325.7 L110.6 325.6 L109.4 325.5 L108.2 325.4 L107.0 325.3 L105.8 325.3 L104.6 325.2 L103.4 325.2 L102.2 325.1 L101.0 325.1 L99.7 325.1 L98.5 325.1 L97.3 325.1 L96.1 325.1 L94.9 325.2 L93.7 325.2 L92.5 325.2 L91.3 325.3 L90.1 325.4 L88.9 325.5 L87.7 325.6 L86.5 325.7 L85.3 325.8 L84.1 325.9 L82.9 326.0 L81.7 326.2 L80.5 326.3 L79.3 326.5 L78.1 326.7 L76.9 326.9 L75.7 327.1 L74.5 327.3 L73.3 327.5 L72.1 327.7 L70.9 327.9 L69.7 328.2 L68.6 328.4 L67.4 328.7 L66.2 329.0"/>
<path d="M65.5 319.6 L66.7 319.3 L67.8 319.0 L69.0 318.7 L70.2 318.4 L71.3 318.1 L72.5 317.9 L73.7 317.6 L74.9 317.4 L76.1 317.1 L77.3 316.9 L78.5 316.7 L79.7 316.5 L80.9 316.3 L82.1 316.1 L83.3 316.0 L84.5 315.8 L85.7 315.7 L86.9 315.5 L88.1 315.4 L89.3 315.3 L90.5 315.2 L91.7 315.1 L92.9 315.0 L94.1 315.0 L95.4 314.9 L96.6 314.9 L97.8 314.9 L99.0 314.8 L100.2 314.8 L101.4 314.8 L102.6 314.9 L103.8 314.9 L105.1 314.9 L106.3 315.0 L107.5 315.1 L108.7 315.2 L109.9 315.3 L111.1 315.4 L112.3 315.5 L113.5 315.6 L114.7 315.8 L115.9 315.9 L117.1 316.1 L118.3 316.3 L119.5 316.5 L120.6 316.7 L121.8 317.0 L123.0 317.2 L124.2 317.4 L125.4 317.7 L126.5 318.0 L127.7 318.3 L128.9 318.5 L130.1 318.8 L131.2 319.2 L132.4 319.5 L133.6 319.8 L134.7 320.1 L135.9 320.5 L137.0 320.8 L138.2 321.2 L139.4 321.6 L140.5 321.9 L141.7 322.3 L142.8 322.7 L144.0 323.1 L145.2 323.5 L146.3 323.9 L147.5 324.3 L148.6 324.7 L149.8 325.1 L150.9 325.5 L152.1 325.9 L153.3 326.3 L154.4 326.7 L155.6 327.1 L156.7 327.4 L157.8 327.5 L158.8 327.3 L159.7 326.7 L160.5 325.8 L161.1 324.8 L161.6 323.7 L161.9 322.6 L162.1 321.5 L162.2 320.2 L162.2 319.0 L162.1 317.8 L162.0 316.5 L161.8 315.2 L161.6 313.9 L161.5 312.6 L161.3 311.3 L161.3 310.0 L161.2 308.8 L161.2 307.5 L161.3 306.3 L161.4 305.0 L161.6 303.8 L161.8 302.6 L162.0 301.4 L162.3 300.2 L162.6 299.0 L163.0 297.9 L163.3 296.8 L163.8 295.6 L164.2 294.5 L164.7 293.5 L165.3 292.4 L165.8 291.3 L166.4 290.3 L167.1 289.3 L167.7 288.3 L168.4 287.3 L169.1 286.4 L169.8 285.4 L170.5 284.5 L171.3 283.5 L172.0 282.6 L172.8 281.7 L173.6 280.8 L174.4 279.9 L175.3 279.0 L176.1 278.1 L176.9 277.2 L177.8 276.3 L178.6 275.4 L179.5 274.6 L180.3 273.7 L181.2 272.8 L182.0 271.9 L182.9 271.0 L183.7 270.2 L184.6 269.3 L185.4 268.4 L186.2 267.5 L187.1 266.6 L187.9 265.7 L188.7 264.8 L189.5 263.8 L190.3 262.9 L191.1 262.0 L191.9 261.1 L192.6 260.1 L193.4 259.2 L194.1 258.3 L194.9 257.3 L195.6 256.3 L196.3 255.4 L197.0 254.4 L197.7 253.4 L198.4 252.4 L199.0 251.4 L199.7 250.4 L200.3 249.4 L200.9 248.4 L201.5 247.4 L202.1 246.3 L202.7 245.3 L203.2 244.2 L203.8 243.1 L204.3 242.1 L204.8 241.0 L205.3 239.9 L205.8 238.8 L206.2 237.6 L206.6 236.5 L207.1 235.4 L207.5 234.2 L207.8 233.1 L208.2 231.9 L208.6 230.8 L208.9 229.6 L209.2 228.4 L209.5 227.3 L209.8 226.1 L210.1 224.9 L210.4 223.7 L210.6 222.5 L210.9 221.3 L211.1 220.1 L211.3 218.9 L211.5 217.7 L211.7 216.5 L211.9 215.3 L212.1 214.1 L212.2 212.8 L212.3 211.6 L212.5 210.4 L212.6 209.2 L212.7 208.0 L212.8 206.7 L212.8 205.5 L212.9 204.3 L213.0 203.1 L213.0 201.9 L213.1 200.6 L213.1 199.4 L213.1 198.2 L213.1 197.0 L213.1 195.8 L213.1 194.6 L213.1 193.4 L213.0 192.2 L213.0 191.0 L212.9 189.8 L212.8 188.6 L212.7 187.4 L212.6 186.3 L212.5 185.1 L212.4 183.9 L212.3 182.7 L212.1 181.5 L211.9 180.3 L211.7 179.2 L211.5 178.0 L211.3 176.8 L211.0 175.6 L210.8 174.5 L210.5 173.3 L210.2 172.1 L209.9 170.9 L209.5 169.8 L209.1 168.6 L208.8 167.4 L208.4 166.2 L207.9 165.1 L207.5 163.9"/>
<path d="M210.2 163.9 L210.6 165.1 L211.0 166.2 L211.4 167.4 L211.8 168.6 L212.1 169.7 L212.5 170.9 L212.8 172.1 L213.1 173.3 L213.4 174.4 L213.7 175.6 L214.0 176.8 L214.2 178.0 L214.5 179.2 L214.7 180.4 L214.9 181.6 L215.1 182.8 L215.3 184.0 L215.4 185.2 L215.6 186.4 L215.7 187.6 L215.8 188.8 L215.9 190.0 L216.0 191.2 L216.1 192.4 L216.1 193.6 L216.2 194.8 L216.2 196.0 L216.2 197.2 L216.2 198.5 L216.2 199.7 L216.1 200.9 L216.1 202.1 L216.0 203.3 L215.9 204.5 L215.8 205.8 L215.7 207.0 L215.6 208.2 L215.5 209.4 L215.4 210.7 L215.2 211.9 L215.0 213.1 L214.9 214.3 L214.7 215.5 L214.5 216.7 L214.3 218.0 L214.1 219.2 L213.9 220.4 L213.6 221.6 L213.4 222.8 L213.2 224.0 L212.9 225.2 L212.6 226.4 L212.4 227.6 L212.1 228.8 L211.8 230.0 L211.5 231.2 L211.1 232.3 L210.8 233.5 L210.4 234.7 L210.0 235.8 L209.7 237.0 L209.2 238.1 L208.8 239.2 L208.4 240.4 L207.9 241.5 L207.4 242.6 L206.9 243.7 L206.4 244.7 L205.8 245.8 L205.3 246.9 L204.7 247.9 L204.1 249.0 L203.4 250.0 L202.8 251.0 L202.1 252.0 L201.5 253.0 L200.8 254.0 L200.1 255.0 L199.4 256.0 L198.7 257.0 L198.0 258.0 L197.2 259.0 L196.5 259.9 L195.8 260.9 L195.0 261.9 L194.3 262.9 L193.6 263.9 L192.8 264.8 L192.1 265.8 L191.4 266.8 L190.7 267.8 L190.0 268.8 L189.3 269.8 L188.6 270.8 L187.9 271.8 L187.3 272.9 L186.6 273.9 L186.0 274.9"/>
<path d="M220.5 163.9 L220.6 165.1 L220.7 166.3 L220.9 167.5 L221.0 168.8 L221.2 170.0 L221.4 171.2 L221.5 172.4 L221.7 173.6 L221.9 174.8 L222.2 176.0 L222.4 177.2 L222.6 178.5 L222.8 179.7 L223.0 180.9 L223.2 182.1 L223.4 183.3 L223.6 184.5 L223.8 185.7 L224.0 187.0 L224.2 188.2 L224.4 189.4 L224.6 190.6 L224.7 191.8 L224.8 193.0 L225.0 194.3 L225.1 195.5 L225.1 196.7 L225.2 197.9 L225.2 199.1 L225.3 200.4 L225.2 201.6 L225.2 202.8 L225.2 204.0 L225.1 205.2 L225.0 206.5 L224.9 207.7 L224.7 208.9 L224.6 210.1 L224.4 211.4 L224.2 212.6 L224.0 213.8 L223.8 215.0 L223.5 216.2 L223.3 217.4 L223.0 218.6 L222.7 219.8 L222.4 221.0 L222.2 222.2 L221.8 223.4 L221.5 224.6 L221.2 225.8 L220.9 227.0 L220.5 228.2 L220.2 229.4 L219.8 230.5 L219.5 231.7 L219.1 232.8 L218.8 234.0 L218.4 235.1 L218.0 236.3 L217.6 237.4 L217.3 238.6 L216.9 239.7 L216.4 240.8 L216.0 242.0 L215.6 243.1 L215.1 244.2 L214.7 245.4 L214.2 246.5 L213.7 247.6 L213.1 248.7 L212.6 249.9 L212.0 251.0 L211.4 252.2 L210.8 253.3 L210.1 254.4 L209.4 255.6 L208.7 256.8 L208.0 257.9 L207.3 259.0 L206.7 260.1 L206.3 261.1 L206.2 262.1 L206.2 262.9 L206.7 263.6 L207.5 264.1 L208.7 264.5"/>
<path d="M124.3 316.9 L125.5 317.4 L126.7 317.9 L127.9 318.4 L129.0 318.9 L130.2 319.4 L131.4 319.8 L132.6 320.2 L133.8 320.6 L135.0 321.0 L136.3 321.3 L137.5 321.7 L138.7 322.0 L139.9 322.3 L141.1 322.6 L142.4 322.8 L143.6 323.1 L144.8 323.3 L146.1 323.5 L147.3 323.7 L148.6 323.8 L149.8 324.0 L151.0 324.1 L152.3 324.2 L153.6 324.3 L154.8 324.3 L156.1 324.4 L157.4 324.4 L158.6 324.4 L159.9 324.4"/>
<circle cx="220.3" cy="317.8" r="154.3"/>
<circle cx="220.3" cy="317.8" r="55"/>
<circle cx="220.3" cy="317.8" r="52.6"/>
<circle cx="79.0" cy="247.6" r="2.6"/>
<circle cx="169.7" cy="168.3" r="2.6"/>
<circle cx="289.7" cy="176.1" r="2.6"/>
<circle cx="369.7" cy="266.9" r="2.6"/>
<circle cx="361.4" cy="388.5" r="2.6"/>
<circle cx="270.6" cy="467.4" r="2.6"/>
<circle cx="150.4" cy="459.3" r="2.6"/>
<circle cx="70.9" cy="368.7" r="2.6"/>
</g>
<g fill="none" stroke="#231f20" stroke-width="1.6">
<!-- centerlines -->
<line x1="40" y1="317.9" x2="396.5" y2="317.9"/>
<line x1="220.4" y1="141" x2="220.4" y2="494.6"/>
<!-- extension lines -->
<line x1="57.8" y1="318" x2="57.8" y2="582.5"/>
<line x1="62.6" y1="318" x2="62.6" y2="533.5"/>
<line x1="377.8" y1="318" x2="377.8" y2="533.5"/>
<line x1="383" y1="318" x2="383" y2="582.5"/>
<line x1="63" y1="530.2" x2="377.5" y2="530.2"/>
<line x1="58" y1="576.8" x2="383" y2="576.8"/>
<!-- 320 dim -->
<path d="M198 150 V78.6 A21 21 0 0 1 219 57.6 H441.5"/>
<line x1="441.5" y1="53" x2="441.5" y2="104.7"/>
<line x1="348" y1="88.6" x2="465" y2="88.6"/>
<line x1="427.5" y1="83.8" x2="427.5" y2="109"/>
<!-- wires -->
<path d="M208.1 156.2 V117.3 A13 13 0 0 1 221.1 104.3 H427.5"/>
<path d="M212.6 155.9 V117.3 A8.5 8.5 0 0 1 221.1 108.8 H427.5"/>
<path d="M217 155.6 V120.4 A6.5 6.5 0 0 1 223.5 113.9 H427.5"/>
<path d="M221.5 155.5 V121.5 A2.5 2.5 0 0 1 224 119 H427.5"/>
<line x1="427.5" y1="106.5" x2="442" y2="106.5"/>
<line x1="427.5" y1="116.4" x2="442" y2="116.4"/>
<line x1="427.5" y1="113.2" x2="427.5" y2="119.7"/>
<!-- AWG leader -->
<polyline points="323.5,132.3 376.5,174 463.6,174"/>
<!-- 16-hole leader -->
<line x1="346.4" y1="267.4" x2="491" y2="267.4"/>
<!-- rotation arc -->
<path d="M150.5 38.3 Q219 8 287.5 38.8"/>
<line x1="287.5" y1="38.8" x2="282" y2="31.5"/>
</g>
<g fill="#231f20" stroke="none">
<path d="M441.5 57.6 l-12 -2.9 v5.8z"/>
<path d="M427.5 88.6 l-12 -2.9 v5.8z"/>
<path d="M441.5 88.6 l12 -2.9 v5.8z"/>
<path d="M198.2 155.5 l-2.7 -11.6 h5.4z"/>
<path d="M311.6 118.6 L327.2 131 L321.3 135.6z"/>
<path d="M366.4 267.2 l-10.4 -2.4 v4.8z"/>
<path d="M372.2 267.2 l10.4 -2.4 v4.8z"/>
<path d="M63 530.2 l11.5 -2.9 v5.8z"/>
<path d="M377.5 530.2 l-11.5 -2.9 v5.8z"/>
<path d="M58 576.8 l11.5 -2.9 v5.8z"/>
<path d="M383 576.8 l-11.5 -2.9 v5.8z"/>
</g>
<!-- side view -->
<g fill="none" stroke="#231f20" stroke-width="1.6">
<rect x="548" y="158" width="6.8" height="326.5" rx="1.2"/>
<rect x="655.5" y="158" width="6.8" height="326.5" rx="1.2"/>
<path d="M555.5 169.8 Q590 174.5 613 174.3 Q640 175.5 650 175 Q653 174.5 655.5 172.7"/>
<path d="M555.5 472.5 Q590 469 613 468 Q640 466.5 650 467.3 Q653 467.8 655.5 469.2"/>
<line x1="555.8" y1="169.5" x2="555.8" y2="472.5" stroke-width="1.8"/>
<line x1="578" y1="173" x2="578" y2="296.8"/>
<line x1="578" y1="346.1" x2="578" y2="469.6"/>
<line x1="630.1" y1="175.4" x2="630.1" y2="466.7"/>
<line x1="650.2" y1="175" x2="650.2" y2="467.3"/>
<polyline points="613.3,359.5 613.3,146.2 856,146.2"/>
<line x1="547.6" y1="488.7" x2="547.6" y2="530"/>
<line x1="662" y1="488.7" x2="662" y2="530"/>
<line x1="548" y1="526.8" x2="662" y2="526.8"/>
<!-- mount block -->
<rect x="555" y="296.8" width="26.6" height="49.3"/>
<line x1="555" y1="306.7" x2="581.6" y2="306.7" stroke-width="2"/>
<line x1="555" y1="335.3" x2="581.6" y2="335.3" stroke-width="2"/>
<rect x="581.6" y="311.8" width="8" height="3"/>
<rect x="581.6" y="327.8" width="8" height="3"/>
<line x1="589.6" y1="314.6" x2="616" y2="314.6"/>
<line x1="589.6" y1="328.2" x2="616" y2="328.2"/>
<line x1="535" y1="321.4" x2="672" y2="321.4" stroke-dasharray="4 1.6 1.2 1.6"/>
<!-- air flow arrow -->
<path d="M541.2 106.4 L569.7 95.1 L571 99.6 H655 Q656.9 99.6 656.9 101.5 V104.5 Q656.9 106.4 655 106.4 Z"/>
<!-- ground -->
<circle cx="593.5" cy="366.4" r="6" stroke-width="1.7"/>
<line x1="589.8" y1="366.4" x2="597.2" y2="366.4" stroke-width="1.8"/>
<line x1="593.5" y1="362.7" x2="593.5" y2="370.1" stroke-width="1.8"/>
<line x1="593.5" y1="372.4" x2="593.5" y2="374.8" stroke-width="1.6"/>
<line x1="589.2" y1="374.8" x2="597.8" y2="374.8" stroke-width="1.9"/>
<line x1="590.6" y1="378.1" x2="596.4" y2="378.1" stroke-width="1.9"/>
<line x1="592" y1="381.6" x2="595" y2="381.6" stroke-width="1.9"/>
</g>
<g fill="#231f20" stroke="none">
<path d="M548 526.8 l13 -2.8 v5.6z"/>
<path d="M662 526.8 l-13 -2.8 v5.6z"/>
<path d="M613.3 314.6 l-2.6 -10.5 h5.2z"/>
<path d="M613.3 328.2 l-2.6 10.5 h5.2z"/>
<ellipse cx="568.3" cy="301.6" rx="5.6" ry="3.5"/>
<ellipse cx="568.3" cy="341.4" rx="5.6" ry="3.5"/>
<rect x="565.8" y="300.6" width="1.6" height="1.6" fill="#fff"/><rect x="569.2" y="300.6" width="1.6" height="1.6" fill="#fff"/>
<rect x="565.8" y="340.4" width="1.6" height="1.6" fill="#fff"/><rect x="569.2" y="340.4" width="1.6" height="1.6" fill="#fff"/>
<path d="M584.7 230.6 h3.6 v16 h4 l-5.8 11 l-5.8 -11 h4z"/>
<path d="M581.9 276.1 l11 -5.5 v3.6 h16 v4 h-16 v3.6z"/>
</g>
<!-- texts -->
<text transform="translate(344.8,49.7) scale(1,1.08)" font-size="22">320±10</text>
<text transform="translate(353.2,85.1) scale(1,1.08)" font-size="21.6">10±1</text>
<text transform="translate(378.6,169.3) scale(1,1.08)" font-size="22">#20AWG</text>
<text transform="translate(416.1,259.8) scale(1,1.0)" font-size="22">16-ø4.5</text>
<text transform="translate(192.6,315.8) scale(1,1.07)" font-size="20.5" textLength="69.5" lengthAdjust="spacingAndGlyphs">SUNON</text>
<text transform="translate(161.1,524.5) scale(1,1.08)" font-size="22">ø245.5±0.5</text>
<text transform="translate(161.1,561.1) scale(1,1.08)" font-size="22">ø254±</text>
<text transform="translate(225.8,554.1) scale(1,1.08)" font-size="22">1</text>
<text transform="translate(226,575.1) scale(1,1.08)" font-size="22">0.5</text>
<text transform="translate(546.5,86.1) scale(1,1.08)" font-size="22">AIR FLOW</text>
<text transform="translate(688.6,83.8) scale(1,1.08)" font-size="22">TERMINAL TYPE</text>
<text transform="translate(689,110.0) scale(1,1.08)" font-size="22">7.5</text>
<text transform="translate(689,136.1) scale(1,1.08)" font-size="22">(THICK 0.5)</text>
<text transform="translate(571,523.2) scale(1,1.08)" font-size="22">89±0.5</text>
<text x="564" y="290.8" font-size="9" textLength="42" lengthAdjust="spacingAndGlyphs">AIR FLOW</text>
<text transform="translate(593,194.2) rotate(90)" font-size="14.8" textLength="66" lengthAdjust="spacingAndGlyphs" y="0">ROTATION</text>
<text transform="translate(586.9,388.5) rotate(90)" font-size="22.5" y="0">M5</text>
<path id="rotarc" d="M62.35 107 A178 178 0 0 1 370.65 107" fill="none"/>
<text font-size="21.8" letter-spacing="0.2" transform="translate(216.5,18) scale(1,1.05) translate(-216.5,-18)"><textPath href="#rotarc" startOffset="186.5" text-anchor="middle">ROTATION</textPath></text>
</svg>
</body></html>
